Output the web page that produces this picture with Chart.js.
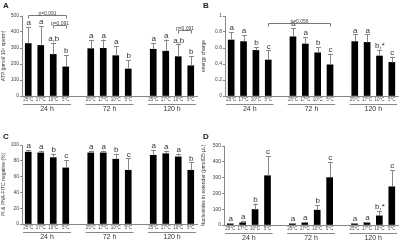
<!DOCTYPE html>
<html>
<head>
<meta charset="utf-8">
<script src="https://cdn.jsdelivr.net/npm/chart.js@4"></script>
<style>
  body { margin: 0; background: #fff; }
  #wrap { position: relative; width: 400px; height: 243px; }
  canvas { position: absolute; }
</style>
</head>
<body>
<div id="wrap">
  <canvas id="pA" width="200" height="122" style="left:0;top:0"></canvas>
  <canvas id="pB" width="200" height="122" style="left:200px;top:0"></canvas>
  <canvas id="pC" width="200" height="115" style="left:0;top:128px"></canvas>
  <canvas id="pD" width="200" height="115" style="left:200px;top:128px"></canvas>
</div>
<script>
// temperatures et temps de stockage
var temps = ['25°C', '17°C', '10°C', '5°C'];
var times = ['24 h', '72 h', '120 h'];

// A : ATP
var atpMean = [328, 316, 260, 182, 296, 298, 252, 169, 292, 280, 246, 189];
var atpErr = [105, 120, 73, 73, 53, 55, 60, 55, 41, 73, 76, 60];
var atpLetters = ['a', 'a', 'a,b', 'b', 'a', 'a', 'a', 'b', 'a', 'a', 'a,b', 'b'];
var atpTicks = [0, 50, 100, 150, 200, 250, 300, 350, 400, 450, 500];

// B : energy charge
var ecMean = [0.70, 0.68, 0.57, 0.45, 0.74, 0.65, 0.54, 0.39, 0.68, 0.67, 0.50, 0.42];
var ecErr = [0.10, 0.08, 0.04, 0.12, 0.11, 0.09, 0.07, 0.14, 0.09, 0.10, 0.08, 0.07];
var ecLetters = ['a', 'a', 'b', 'c', 'a', 'a', 'b', 'c', 'a', 'a', 'b,*', 'c'];
var ecTicks = [0, 0.1, 0.2, 0.3, 0.4, 0.5, 0.6, 0.7, 0.8, 0.9, 1];

// C : PI & PNA-FITC negative
var viaMean = [91, 90, 84, 71, 90, 90, 82, 68, 87, 89, 85, 68];
var viaErr = [3, 3, 5, 10, 3, 3, 7, 15, 7, 4, 4, 10];
var viaLetters = ['a', 'a', 'b', 'c', 'a', 'a', 'b', 'c', 'a', 'a', 'a', 'b'];
var viaTicks = [0, 10, 20, 30, 40, 50, 60, 70, 80, 90, 100];

// D : nucleotides in extender
var nucMean = [8, 14, 98, 312, 8, 13, 94, 300, 8, 15, 58, 242];
var nucErr = [6, 10, 38, 125, 5, 8, 33, 100, 4, 6, 33, 106];
var nucLetters = ['a', 'a', 'b', 'c', 'a', 'a', 'b', 'c', 'a', 'a', 'b,*', 'c'];

var FONT = "'Liberation Sans', Arial, sans-serif";

// 4 barres + 1 case vide par groupe
function slotOf(i) { return Math.floor(i / 4) * 5 + (i % 4); }

function buildLabels() {
  var out = [];
  times.forEach(function (t, g) {
    temps.forEach(function (c) { out.push(c); });
    if (g < times.length - 1) out.push('');
  });
  return out;
}
function buildData(arr) {
  var out = [];
  times.forEach(function (t, g) {
    for (var k = 0; k < 4; k++) out.push(arr[g * 4 + k]);
    if (g < times.length - 1) out.push(null);
  });
  return out;
}

function makePanel(id, p) {
  var extras = {
    id: 'extras',
    afterDatasetsDraw: function (chart) {
      var ctx = chart.ctx;
      var y = chart.scales.y;
      var x = chart.scales.x;
      var meta = chart.getDatasetMeta(0);
      ctx.save();
      // barres d'erreur + lettres
      p.mean.forEach(function (m, i) {
        var bar = meta.data[slotOf(i)];
        var top = y.getPixelForValue(m + p.err[i]);
        ctx.strokeStyle = '#888';
        ctx.lineWidth = 1;
        ctx.beginPath();
        ctx.moveTo(Math.round(bar.x) + 0.5, bar.y);
        ctx.lineTo(Math.round(bar.x) + 0.5, top);
        ctx.moveTo(Math.round(bar.x) - 2, Math.round(top) + 0.5);
        ctx.lineTo(Math.round(bar.x) + 3, Math.round(top) + 0.5);
        ctx.stroke();
        ctx.fillStyle = '#333';
        ctx.font = '8px ' + FONT;
        ctx.textAlign = 'center';
        ctx.textBaseline = 'bottom';
        ctx.fillText(p.letters[i], bar.x + 0.5, top);
      });
      // crochets p=
      (p.brackets || []).forEach(function (b) {
        var x1 = Math.round(meta.data[slotOf(b.from)].x) + 0.5;
        var x2 = Math.round(meta.data[slotOf(b.to)].x) + 0.5;
        var yy = Math.round(y.getPixelForValue(b.level)) + 0.5;
        ctx.strokeStyle = '#777';
        ctx.lineWidth = 1;
        ctx.beginPath();
        ctx.moveTo(x1, yy + 3); ctx.lineTo(x1, yy); ctx.lineTo(x2, yy); ctx.lineTo(x2, yy + 3);
        ctx.stroke();
        ctx.fillStyle = '#444';
        ctx.font = '5px ' + FONT;
        ctx.textAlign = 'center';
        ctx.textBaseline = 'alphabetic';
        ctx.fillText(b.text, (x1 + x2) / 2, yy - 0.5);
      });
      // soulignement des groupes + temps
      var slotW = x.getPixelForValue(1) - x.getPixelForValue(0);
      var base = chart.chartArea.bottom;
      times.forEach(function (t, g) {
        var a = x.getPixelForValue(g * 5) - slotW / 2 + 1;
        var c = x.getPixelForValue(g * 5 + 3) + slotW / 2 - 1;
        ctx.strokeStyle = '#888';
        ctx.beginPath();
        ctx.moveTo(a, base + 8.5);
        ctx.lineTo(c, base + 8.5);
        ctx.stroke();
        ctx.fillStyle = '#333';
        ctx.font = '7px ' + FONT;
        ctx.textAlign = 'center';
        ctx.textBaseline = 'middle';
        ctx.fillText(t, (a + c) / 2, base + 13);
      });
      // lettre du panneau
      ctx.fillStyle = '#222';
      ctx.font = 'bold 8px ' + FONT;
      ctx.textAlign = 'left';
      ctx.textBaseline = 'top';
      ctx.fillText(p.panel, 3, p.panelY);
      ctx.restore();
    }
  };

  var canvas = document.getElementById(id);
  return new Chart(canvas.getContext('2d'), {
    type: 'bar',
    data: {
      labels: buildLabels(),
      datasets: [{
        data: buildData(p.mean),
        backgroundColor: '#000',
        barThickness: 6
      }]
    },
    options: {
      responsive: false,
      animation: false,
      events: [],
      layout: { padding: { top: p.top, right: p.right, bottom: 0, left: 0 } },
      plugins: { legend: { display: false }, tooltip: { enabled: false } },
      scales: {
        x: {
          grid: { display: false, drawTicks: false, tickLength: 0 },
          border: { display: true, color: '#888' },
          ticks: {
            autoSkip: false, maxRotation: 0, minRotation: 0, padding: 1,
            color: '#444', font: { size: 4.5, family: FONT }
          },
          afterFit: function (s) { s.height = canvas.height - p.top - p.plotH; }
        },
        y: {
          min: 0, max: p.max,
          afterBuildTicks: function (s) {
            s.ticks = p.ticks.map(function (v) { return { value: v }; });
          },
          ticks: {
            padding: 1, color: '#444', font: { size: 5, family: FONT },
            callback: function (v) { return p.fmt ? p.fmt(v) : v; }
          },
          grid: { drawOnChartArea: false, tickLength: 2, color: '#888' },
          border: { display: true, color: '#888' },
          title: {
            display: true, text: p.title, color: '#333',
            font: { size: 5, family: FONT }, padding: { top: 1, bottom: 0 }
          },
          afterFit: function (s) { s.width = p.left; }
        }
      }
    },
    plugins: [extras]
  });
}

makePanel('pA', {
  panel: 'A', panelY: 2, top: 16, plotH: 80, left: 22, right: 3,
  max: 500, ticks: atpTicks, title: 'ATP (pmol/ 10⁸ sperm)',
  mean: atpMean, err: atpErr, letters: atpLetters,
  brackets: [
    { from: 0, to: 3, level: 505, text: 'p=0.091' },
    { from: 2, to: 3, level: 445, text: 'p=0.091' },
    { from: 10, to: 11, level: 413, text: 'p=0.091' }
  ]
});
makePanel('pB', {
  panel: 'B', panelY: 2, top: 16, plotH: 80, left: 25, right: 2,
  max: 1, ticks: ecTicks, title: 'energy charge',
  fmt: function (v) { return v === 0 || v === 1 ? String(v) : v.toFixed(1); },
  mean: ecMean, err: ecErr, letters: ecLetters,
  brackets: [{ from: 3, to: 7, level: 0.91, text: 'p=0.056' }]
});
makePanel('pC', {
  panel: 'C', panelY: 5, top: 17, plotH: 79, left: 22, right: 3,
  max: 100, ticks: viaTicks, title: 'PI & PNA-FITC negative (%)',
  mean: viaMean, err: viaErr, letters: viaLetters
});
makePanel('pD', {
  panel: 'D', panelY: 5, top: 18, plotH: 79, left: 24, right: 2,
  max: 500, ticks: atpTicks, title: 'Nucleotides in extender (pmol/25 µL)',
  mean: nucMean, err: nucErr, letters: nucLetters
});
</script>
</body>
</html>
